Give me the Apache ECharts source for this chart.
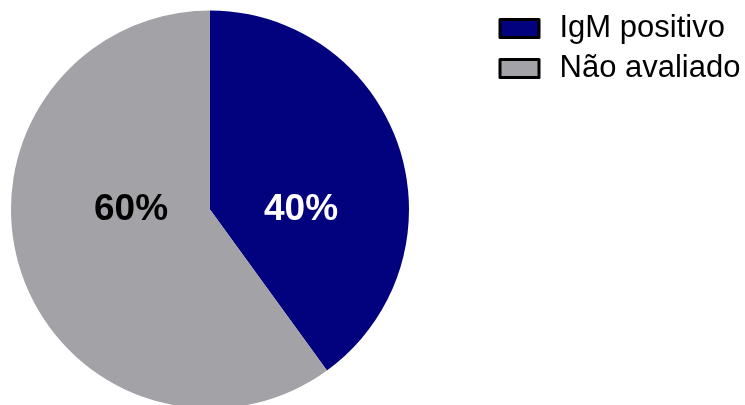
<!DOCTYPE html>
<html>
<head>
<meta charset="utf-8">
<script src="https://cdn.jsdelivr.net/npm/echarts@6/dist/echarts.min.js"></script>
<style>
  html, body { margin: 0; padding: 0; background: #fff; }
  #chart { width: 745px; height: 405px; }
</style>
</head>
<body>
<div id="chart"></div>
<script>
// Categories and their shares (%)
const categories = ['IgM positivo', 'Não avaliado'];
const values = [40, 60];
const colors = ['#02027f', '#a3a2a7'];
const labelColors = ['#ffffff', '#000000'];

const chart = echarts.init(document.getElementById('chart'));

const CX = 210, CY = 209.5, R = 199;

chart.setOption({
  animation: false,
  legend: {
    orient: 'vertical',
    left: 493.5,
    top: 8,
    itemWidth: 39,
    itemHeight: 18,
    itemGap: 9,
    icon: 'rect',
    itemStyle: { borderColor: '#000', borderWidth: 3 },
    textStyle: {
      fontFamily: 'Liberation Sans, Arial, sans-serif',
      fontSize: 31,
      color: '#000',
      padding: [0, 0, 0, 15.5]
    },
    data: categories
  },
  series: [{
    type: 'pie',
    center: [CX, CY],
    radius: [0, R],
    startAngle: 90,
    clockwise: true,
    avoidLabelOverlap: false,
    data: categories.map((name, i) => ({
      name,
      value: values[i],
      itemStyle: { color: colors[i] },
      label: { color: labelColors[i] }
    })),
    label: {
      show: true,
      position: 'inside',
      formatter: p => p.value + '%',
      fontFamily: 'Liberation Sans, Arial, sans-serif',
      fontWeight: 'bold',
      fontSize: 37
    },
    labelLine: { show: false },
    // Labels sit on the horizontal through the centre, right for the first slice, left for the second
    labelLayout: params => {
      const right = params.dataIndex === 0;
      return {
        x: right ? CX + 91 : CX - 79,
        y: CY,
        align: 'center',
        verticalAlign: 'middle'
      };
    },
    emphasis: { disabled: true }
  }]
});
</script>
</body>
</html>
